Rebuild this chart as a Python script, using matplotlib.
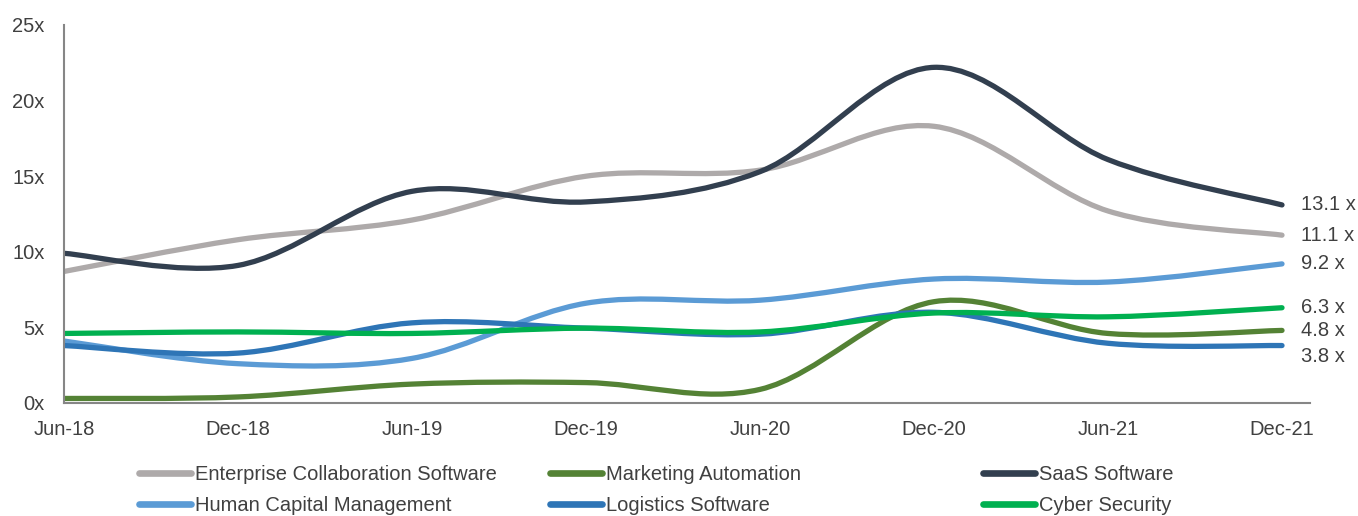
import matplotlib

matplotlib.use("Agg")
import matplotlib.pyplot as plt
import numpy as np
from matplotlib.lines import Line2D
from matplotlib.patches import PathPatch
from matplotlib.path import Path

plt.rcParams["font.family"] = ["Liberation Sans Narrow", "Liberation Sans", "DejaVu Sans"]

periods = ["Jun-18", "Dec-18", "Jun-19", "Dec-19", "Jun-20", "Dec-20", "Jun-21", "Dec-21"]

enterprise = [8.7, 10.8, 12.1, 15.0, 15.4, 18.3, 12.7, 11.1]
marketing = [0.3, 0.4, 1.25, 1.35, 0.9, 6.7, 4.6, 4.8]
saas = [9.9, 9.1, 14.0, 13.3, 15.3, 22.2, 16.1, 13.1]
human_capital = [4.1, 2.6, 2.95, 6.6, 6.8, 8.2, 8.0, 9.2]
logistics = [3.8, 3.3, 5.3, 4.95, 4.55, 6.0, 3.95, 3.8]
cyber = [4.6, 4.7, 4.6, 4.95, 4.7, 5.95, 5.7, 6.3]

series = [
    ("Enterprise Collaboration Software", enterprise, "#AEAAAA"),
    ("Marketing Automation", marketing, "#548235"),
    ("SaaS Software", saas, "#323F4F"),
    ("Human Capital Management", human_capital, "#5B9BD5"),
    ("Logistics Software", logistics, "#2E75B6"),
    ("Cyber Security", cyber, "#00B050"),
]
end_labels = ["11.1 x", "4.8 x", "13.1 x", "9.2 x", "3.8 x", "6.3 x"]
label_dy = [0, 0, 0, 0, -8, 0]  # points, to keep labels apart

TEXT = "#404040"
AXIS = "#868686"
LW = 3.8


def smooth_path(xs, ys):
    # Excel-style smoothed line: cubic Bezier through the data points
    pts = np.column_stack([xs, ys]).astype(float)
    n = len(pts)
    verts = [tuple(pts[0])]
    codes = [Path.MOVETO]
    for i in range(n - 1):
        p0 = pts[i - 1] if i > 0 else pts[i]
        p1 = pts[i]
        p2 = pts[i + 1]
        p3 = pts[i + 2] if i + 2 < n else pts[i + 1]
        c1 = p1 + (p2 - p0) / 6.0
        c2 = p2 - (p3 - p1) / 6.0
        verts += [tuple(c1), tuple(c2), tuple(p2)]
        codes += [Path.CURVE4] * 3
    return Path(verts, codes)


fig = plt.figure(figsize=(13.58, 5.16), dpi=100)
ax = fig.add_axes([64 / 1358, 1 - 403 / 516, (1310 - 64) / 1358, (403 - 25) / 516])

x = np.arange(len(periods))
for (name, vals, col), lab, dy in zip(series, end_labels, label_dy):
    patch = PathPatch(smooth_path(x, vals), fill=False, edgecolor=col, lw=LW,
                      capstyle="round", joinstyle="round")
    ax.add_patch(patch)
    ax.annotate(lab, xy=(x[-1], vals[-1]), xytext=(14, dy), textcoords="offset points",
                va="center", ha="left", fontsize=14.5, color=TEXT, annotation_clip=False)

ax.set_xlim(0, 7 + 28 / 174)
ax.set_ylim(0, 25)
ax.set_yticks([0, 5, 10, 15, 20, 25])
ax.set_yticklabels([f"{v}x" for v in [0, 5, 10, 15, 20, 25]])
ax.set_xticks(x)
ax.set_xticklabels(periods)
ax.tick_params(length=0, labelsize=14.5, labelcolor=TEXT)
ax.tick_params(axis="y", pad=14)
ax.tick_params(axis="x", pad=12)
for s in ["top", "right"]:
    ax.spines[s].set_visible(False)
for s in ["left", "bottom"]:
    ax.spines[s].set_color(AXIS)
    ax.spines[s].set_linewidth(1.5)

# legend: three columns placed separately, two rows each
col_x = [139 / 1358, 550 / 1358, 983 / 1358]
for c in range(3):
    hs, ls = [], []
    for r in range(2):
        name, vals, col = series[r * 3 + c]
        hs.append(Line2D([], [], color=col, lw=LW + 1, solid_capstyle="round"))
        ls.append(name)
    fig.legend(hs, ls, loc="upper left", bbox_to_anchor=(col_x[c], 1 - 465 / 516),
               frameon=False, fontsize=14.5, handlelength=2.6, handletextpad=0.2,
               labelspacing=0.6, borderaxespad=0, borderpad=0, labelcolor=TEXT)

fig.savefig("out.png", dpi=100)
